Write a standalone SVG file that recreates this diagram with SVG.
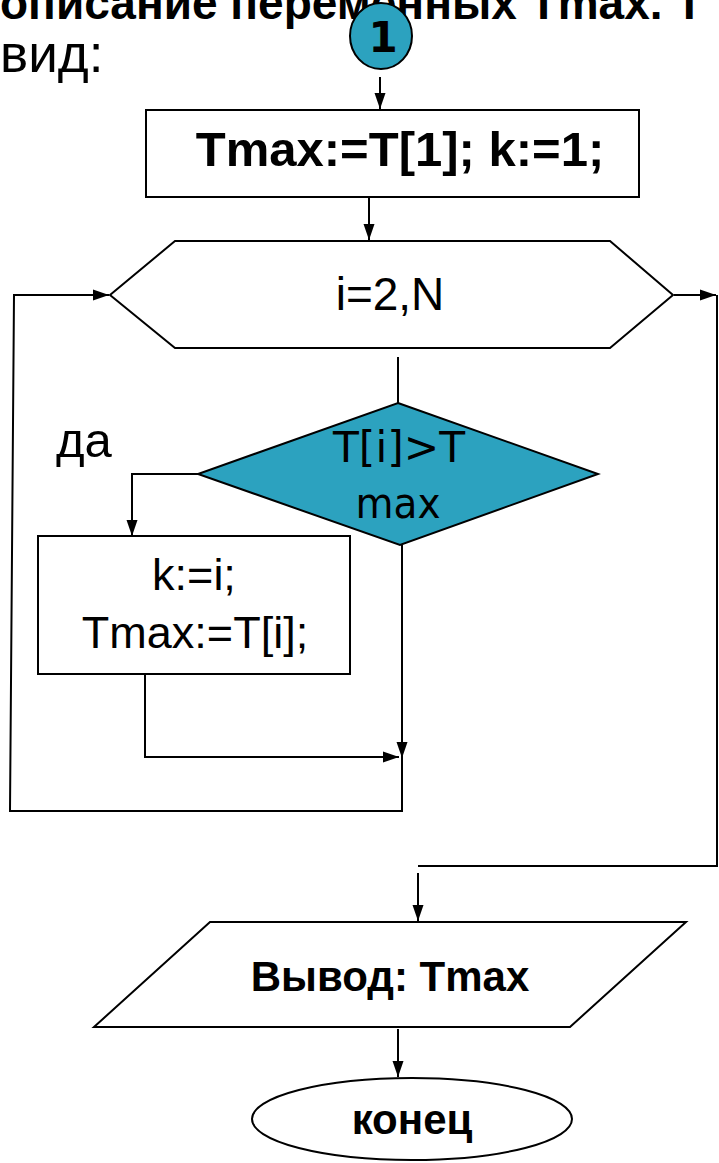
<svg xmlns="http://www.w3.org/2000/svg" width="719" height="1163" viewBox="0 0 719 1163">
<style>
.sh{fill:#fff;stroke:#000;stroke-width:2}
.teal{fill:#2ca2bf;stroke:#000;stroke-width:2}
.ln{fill:none;stroke:#000;stroke-width:2}
.tb{font-family:"Liberation Sans",Arial,sans-serif;font-weight:bold;fill:#000}
.tr{font-family:"Liberation Sans",Arial,sans-serif;fill:#000}
.tc{font-family:"Comic Sans MS","DejaVu Sans",sans-serif;fill:#000}
</style>
<defs>
<marker id="ah" viewBox="0 0 16 12" refX="16" refY="6" markerWidth="16" markerHeight="12" markerUnits="userSpaceOnUse" orient="auto">
<path d="M0,0.5 L16,6 L0,11.5 z" fill="#000"/>
</marker>
</defs>
<rect width="719" height="1163" fill="#fff"/>
<g id="header">
<text class="tb" x="0" y="19" font-size="46">описание переменных Tmax. Т</text>
<text class="tr" x="0" y="72" font-size="53">вид:</text>
</g>
<g id="connectors">
<path class="ln" d="M380 77 L380 109" marker-end="url(#ah)"/>
<path class="ln" d="M369 198 L369 240" marker-end="url(#ah)"/>
<path class="ln" d="M398 357 L398 403"/>
<path class="ln" d="M198 474 L132 474 L132 536" marker-end="url(#ah)"/>
<path class="ln" d="M145 675 L145 757 L399 757" marker-end="url(#ah)"/>
<path class="ln" d="M402 545 L402 758" marker-end="url(#ah)"/>
<path class="ln" d="M402 757 L402 811 L10 811 L14 295 L109 295" marker-end="url(#ah)"/>
<path class="ln" d="M674 295 L716 295" marker-end="url(#ah)"/>
<path class="ln" d="M717 295 L717 866 L418 866"/>
<path class="ln" d="M418 873 L418 921" marker-end="url(#ah)"/>
<path class="ln" d="M398 1029 L398 1077" marker-end="url(#ah)"/>
</g>
<g id="n-start">
<ellipse class="teal" cx="381" cy="36" rx="31" ry="33"/>
<text class="tc" x="383" y="52" font-size="42" font-weight="bold" text-anchor="middle">1</text>
</g>
<g id="n-init">
<rect class="sh" x="146" y="110" width="493" height="87"/>
<text class="tb" x="400" y="166" font-size="49" text-anchor="middle">Tmax:=T[1]; k:=1;</text>
</g>
<g id="n-loop">
<polygon class="sh" points="110,295 175,241 610,241 673,295 610,348 175,348"/>
<text class="tr" x="390" y="310" font-size="46" text-anchor="middle">i=2,N</text>
</g>
<g id="n-cond">
<polygon class="teal" points="398,403 598,474 400,545 198,474"/>
<text class="tc" x="399" y="462" font-size="42" text-anchor="middle" textLength="132" lengthAdjust="spacingAndGlyphs">T[i]&gt;T</text>
<text class="tc" x="398" y="518" font-size="42" text-anchor="middle" textLength="85" lengthAdjust="spacingAndGlyphs">max</text>
</g>
<text id="lbl-da" class="tr" x="56" y="457" font-size="49">да</text>
<g id="n-assign">
<rect class="sh" x="38" y="536" width="312" height="138"/>
<text class="tr" x="194" y="590" font-size="45" text-anchor="middle">k:=i;</text>
<text class="tr" x="195" y="648" font-size="45" text-anchor="middle">Tmax:=T[i];</text>
</g>
<g id="n-output">
<polygon class="sh" points="210,922 686,922 570,1027 94,1027"/>
<text class="tb" x="390" y="991" font-size="42" text-anchor="middle">Вывод: Tmax</text>
</g>
<g id="n-end">
<ellipse class="sh" cx="412" cy="1119" rx="160" ry="41"/>
<text class="tb" x="412" y="1134" font-size="42" text-anchor="middle">конец</text>
</g>
</svg>
